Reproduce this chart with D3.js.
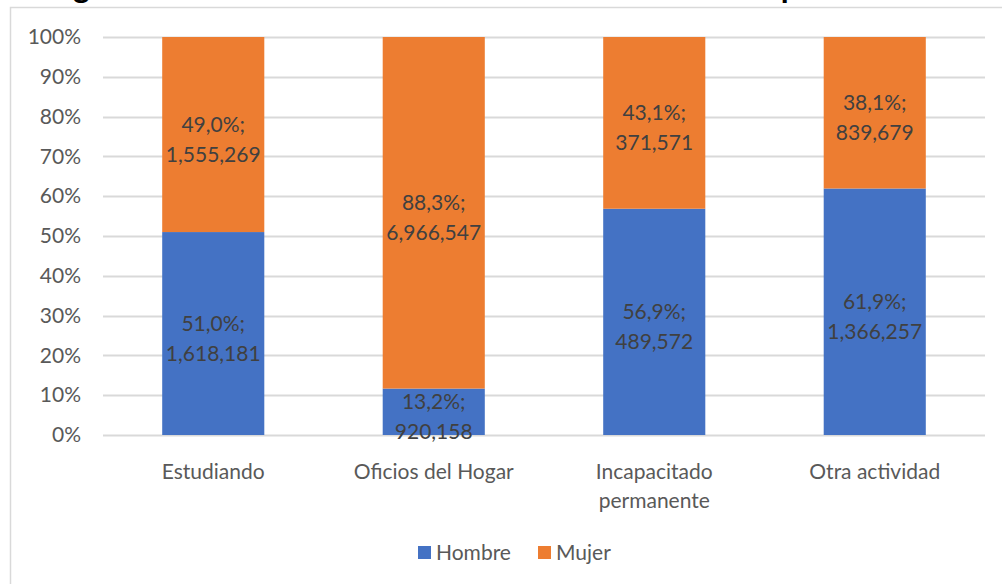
<!DOCTYPE html>
<html>
<head>
<meta charset="utf-8">
<script src="https://cdn.jsdelivr.net/npm/d3@7"></script>
<style>
body { margin: 0; background: #fff; }
svg { display: block; font-family: Lato, "Open Sans", sans-serif; }
</style>
</head>
<body>
<svg id="chart" width="1002" height="584"></svg>
<script>
// data
var categories = ['Estudiando', 'Oficios del Hogar', 'Incapacitado|permanente', 'Otra actividad'];
var hombre = [1618181, 920158, 489572, 1366257];
var mujer = [1555269, 6966547, 371571, 839679];
var hombrePct = ['51,0%', '13,2%', '56,9%', '61,9%'];
var mujerPct = ['49,0%', '88,3%', '43,1%', '38,1%'];
var yTicks = [0, 0.1, 0.2, 0.3, 0.4, 0.5, 0.6, 0.7, 0.8, 0.9, 1];
var seriesNames = ['Hombre', 'Mujer'];
var colors = ['#4472C4', '#ED7D31'];

var svg = d3.select('#chart');
var fmt = d3.format(',');
var fs = '21px';

// title, mostly above the visible area (cut off like the reference)
var title = svg.append('text')
	.attr('x', 50)
	.attr('y', -2)
	.style('font-weight', 'bold')
	.style('font-size', '24px')
	.attr('fill', '#000')
	.text('Según sexo la distribución de los inactivos en cada tipo de actividad');
var t = title.text();
var gi = t.indexOf('g'), pi = t.indexOf('p');
var gx = title.node().getStartPositionOfChar(gi).x;
var px = title.node().getStartPositionOfChar(pi).x;
var k = (783 - 75) / (px - gx);
title.style('font-size', (24 * k) + 'px');
gx = title.node().getStartPositionOfChar(gi).x;
title.attr('x', 50 + (73 - gx));

// frame
svg.append('rect')
	.attr('x', 10.5).attr('y', 7.5)
	.attr('width', 1010).attr('height', 600)
	.attr('fill', 'none')
	.attr('stroke', '#D9D9D9')
	.attr('stroke-width', 1.5);

var x = d3.scaleBand().domain(categories).range([103, 985]).paddingInner(0.537).paddingOuter(0.2685);
var y = d3.scaleLinear().domain([0, 1]).range([435, 37]);

// gridlines
svg.append('g').selectAll('line')
	.data(yTicks)
	.enter().append('line')
	.attr('x1', 103).attr('x2', 985)
	.attr('y1', function(d){ return Math.round(y(d)) + 0.5; })
	.attr('y2', function(d){ return Math.round(y(d)) + 0.5; })
	.attr('stroke', '#D9D9D9')
	.attr('stroke-width', 2);

// y axis labels
var yAxis = d3.axisLeft(y).tickValues(yTicks).tickFormat(d3.format('.0%')).tickSize(0).tickPadding(0);
var ya = svg.append('g').attr('transform', 'translate(81,0)').call(yAxis);
ya.select('.domain').remove();
ya.selectAll('text')
	.attr('fill', '#595959')
	.style('font-size', fs)
	.style('font-family', 'Lato, sans-serif');

// stacked bars
var rows = categories.map(function(c, i) {
	var tot = hombre[i] + mujer[i];
	return {cat: c, h: hombre[i] / tot, m: mujer[i] / tot, hv: hombre[i], mv: mujer[i], hp: hombrePct[i], mp: mujerPct[i]};
});

var segs = [];
rows.forEach(function(r) {
	segs.push({cat: r.cat, y0: 0, y1: r.h, color: colors[0], l1: r.hp + ';', l2: fmt(r.hv)});
	segs.push({cat: r.cat, y0: r.h, y1: 1, color: colors[1], l1: r.mp + ';', l2: fmt(r.mv)});
});

svg.append('g').selectAll('rect')
	.data(segs)
	.enter().append('rect')
	.attr('x', function(d){ return x(d.cat); })
	.attr('width', x.bandwidth())
	.attr('y', function(d){ return y(d.y1); })
	.attr('height', function(d){ return y(d.y0) - y(d.y1); })
	.attr('fill', function(d){ return d.color; });

// data labels
var lab = svg.append('g').selectAll('text')
	.data(segs)
	.enter().append('text')
	.attr('text-anchor', 'middle')
	.attr('fill', '#404040')
	.style('font-size', fs)
	.attr('x', function(d){ return x(d.cat) + x.bandwidth() / 2; })
	.attr('y', function(d){ return (y(d.y0) + y(d.y1)) / 2 + 5; });
lab.append('tspan')
	.attr('x', function(d){ return x(d.cat) + x.bandwidth() / 2; })
	.attr('dy', '-0.38em')
	.text(function(d){ return d.l1; });
lab.append('tspan')
	.attr('x', function(d){ return x(d.cat) + x.bandwidth() / 2; })
	.attr('dy', '1.43em')
	.text(function(d){ return d.l2; });

// x labels
var xl = svg.append('g').selectAll('text')
	.data(categories)
	.enter().append('text')
	.attr('text-anchor', 'middle')
	.attr('fill', '#595959')
	.style('font-size', fs)
	.attr('y', 479);
xl.each(function(c) {
	var parts = c.split('|');
	var el = d3.select(this);
	parts.forEach(function(p, i) {
		el.append('tspan')
			.attr('x', x(c) + x.bandwidth() / 2)
			.attr('dy', i == 0 ? 0 : 29)
			.text(p);
	});
});

// legend
var legX = [418, 538];
var leg = svg.append('g').selectAll('g')
	.data(seriesNames)
	.enter().append('g')
	.attr('transform', function(d, i){ return 'translate(' + legX[i] + ',546)'; });
leg.append('rect')
	.attr('width', 13).attr('height', 13)
	.attr('fill', function(d, i){ return colors[i]; });
leg.append('text')
	.attr('x', 18).attr('y', 14)
	.attr('fill', '#595959')
	.style('font-size', fs)
	.text(function(d){ return d; });
</script>
</body>
</html>
